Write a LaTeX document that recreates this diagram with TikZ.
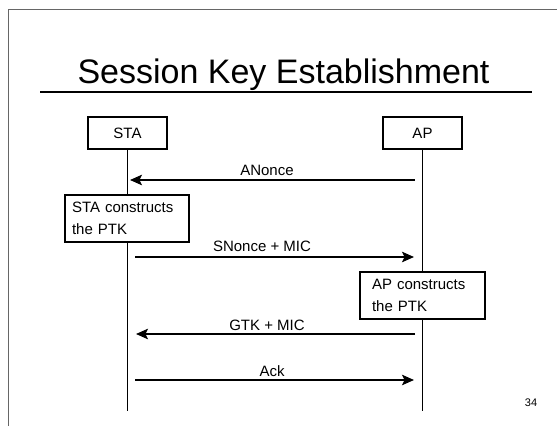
\documentclass[tikz,border=0pt]{standalone}
\usepackage{fontspec}
\setmainfont{Liberation Sans}
\usetikzlibrary{arrows.meta}

\begin{document}
\begin{tikzpicture}[x=1pt,y=-1pt,
  entity/.style={draw, line width=1.2pt, fill=white, minimum width=79pt,
    minimum height=32pt, inner sep=0pt, font=\fontsize{15}{18}\selectfont},
  action/.style={draw, line width=1.2pt, fill=white, align=left,
    minimum height=47pt, inner ysep=0pt, font=\fontsize{15}{22}\selectfont},
  lifeline/.style={line width=1.6pt},
  msg/.style={line width=1.6pt, -{Stealth[length=12pt,width=10.5pt,inset=2.5pt]}},
  msglabel/.style={anchor=base, inner sep=0pt, font=\fontsize{15}{18}\selectfont}
]
\useasboundingbox (0,0) rectangle (557,426);
\fill[white] (0,0) rectangle (557,426);

% slide frame
\draw[line width=1pt, black!60] (8.5,426) -- (8.5,9) -- (557,9);

% title with rule
\node[anchor=base, inner sep=0pt, font=\fontsize{34}{40}\selectfont] (title) at (283.5,83) {Session Key Establishment};
\draw[line width=2.2pt] (40,92) coordinate (ruleL) -- (532,92) coordinate (ruleR);

% participants
\node[entity] (sta) at (127.5,133) {STA};
\node[entity] (ap) at (422.5,133) {AP};
\coordinate (staEnd) at (127.5,410.7);
\coordinate (apEnd) at (422.5,410.7);
\draw[lifeline] (sta.south) -- (staEnd);
\draw[lifeline] (ap.south) -- (apEnd);

% local computations
\node[action, text width=110pt, inner xsep=7pt] (staptk) at (127,218.5)
  {STA constructs\\the PTK};
\node[action, text width=101pt, inner xsep=12pt] (apptk) at (422.5,295.5)
  {AP constructs\\the PTK};

% message anchors on the lifelines
\coordinate (m1a) at (422.5,180);  \coordinate (m1b) at (127.5,180);
\coordinate (m2a) at (127.5,257);  \coordinate (m2b) at (422.5,257);
\coordinate (m3a) at (422.5,334);  \coordinate (m3b) at (127.5,334);
\coordinate (m4a) at (127.5,380);  \coordinate (m4b) at (422.5,380);

% messages
\draw[msg, shorten <=8pt, shorten >=2.5pt] (m1a) -- (m1b);
\node[msglabel] (l1) at (267,175) {ANonce};
\draw[msg, shorten <=7.5pt, shorten >=8.5pt] (m2a) -- (m2b);
\node[msglabel] (l2) at (262,251.7) {SNonce + MIC};
\draw[msg, shorten <=7.5pt, shorten >=8.5pt] (m3a) -- (m3b);
\node[msglabel] (l3) at (267,330) {GTK + MIC};
\draw[msg, shorten <=7.5pt, shorten >=8.5pt] (m4a) -- (m4b);
\node[msglabel] (l4) at (272,376) {Ack};

% slide number
\node[anchor=base, inner sep=0pt, font=\fontsize{11}{13}\selectfont] (pagenum) at (531,406) {34};
\end{tikzpicture}
\end{document}
